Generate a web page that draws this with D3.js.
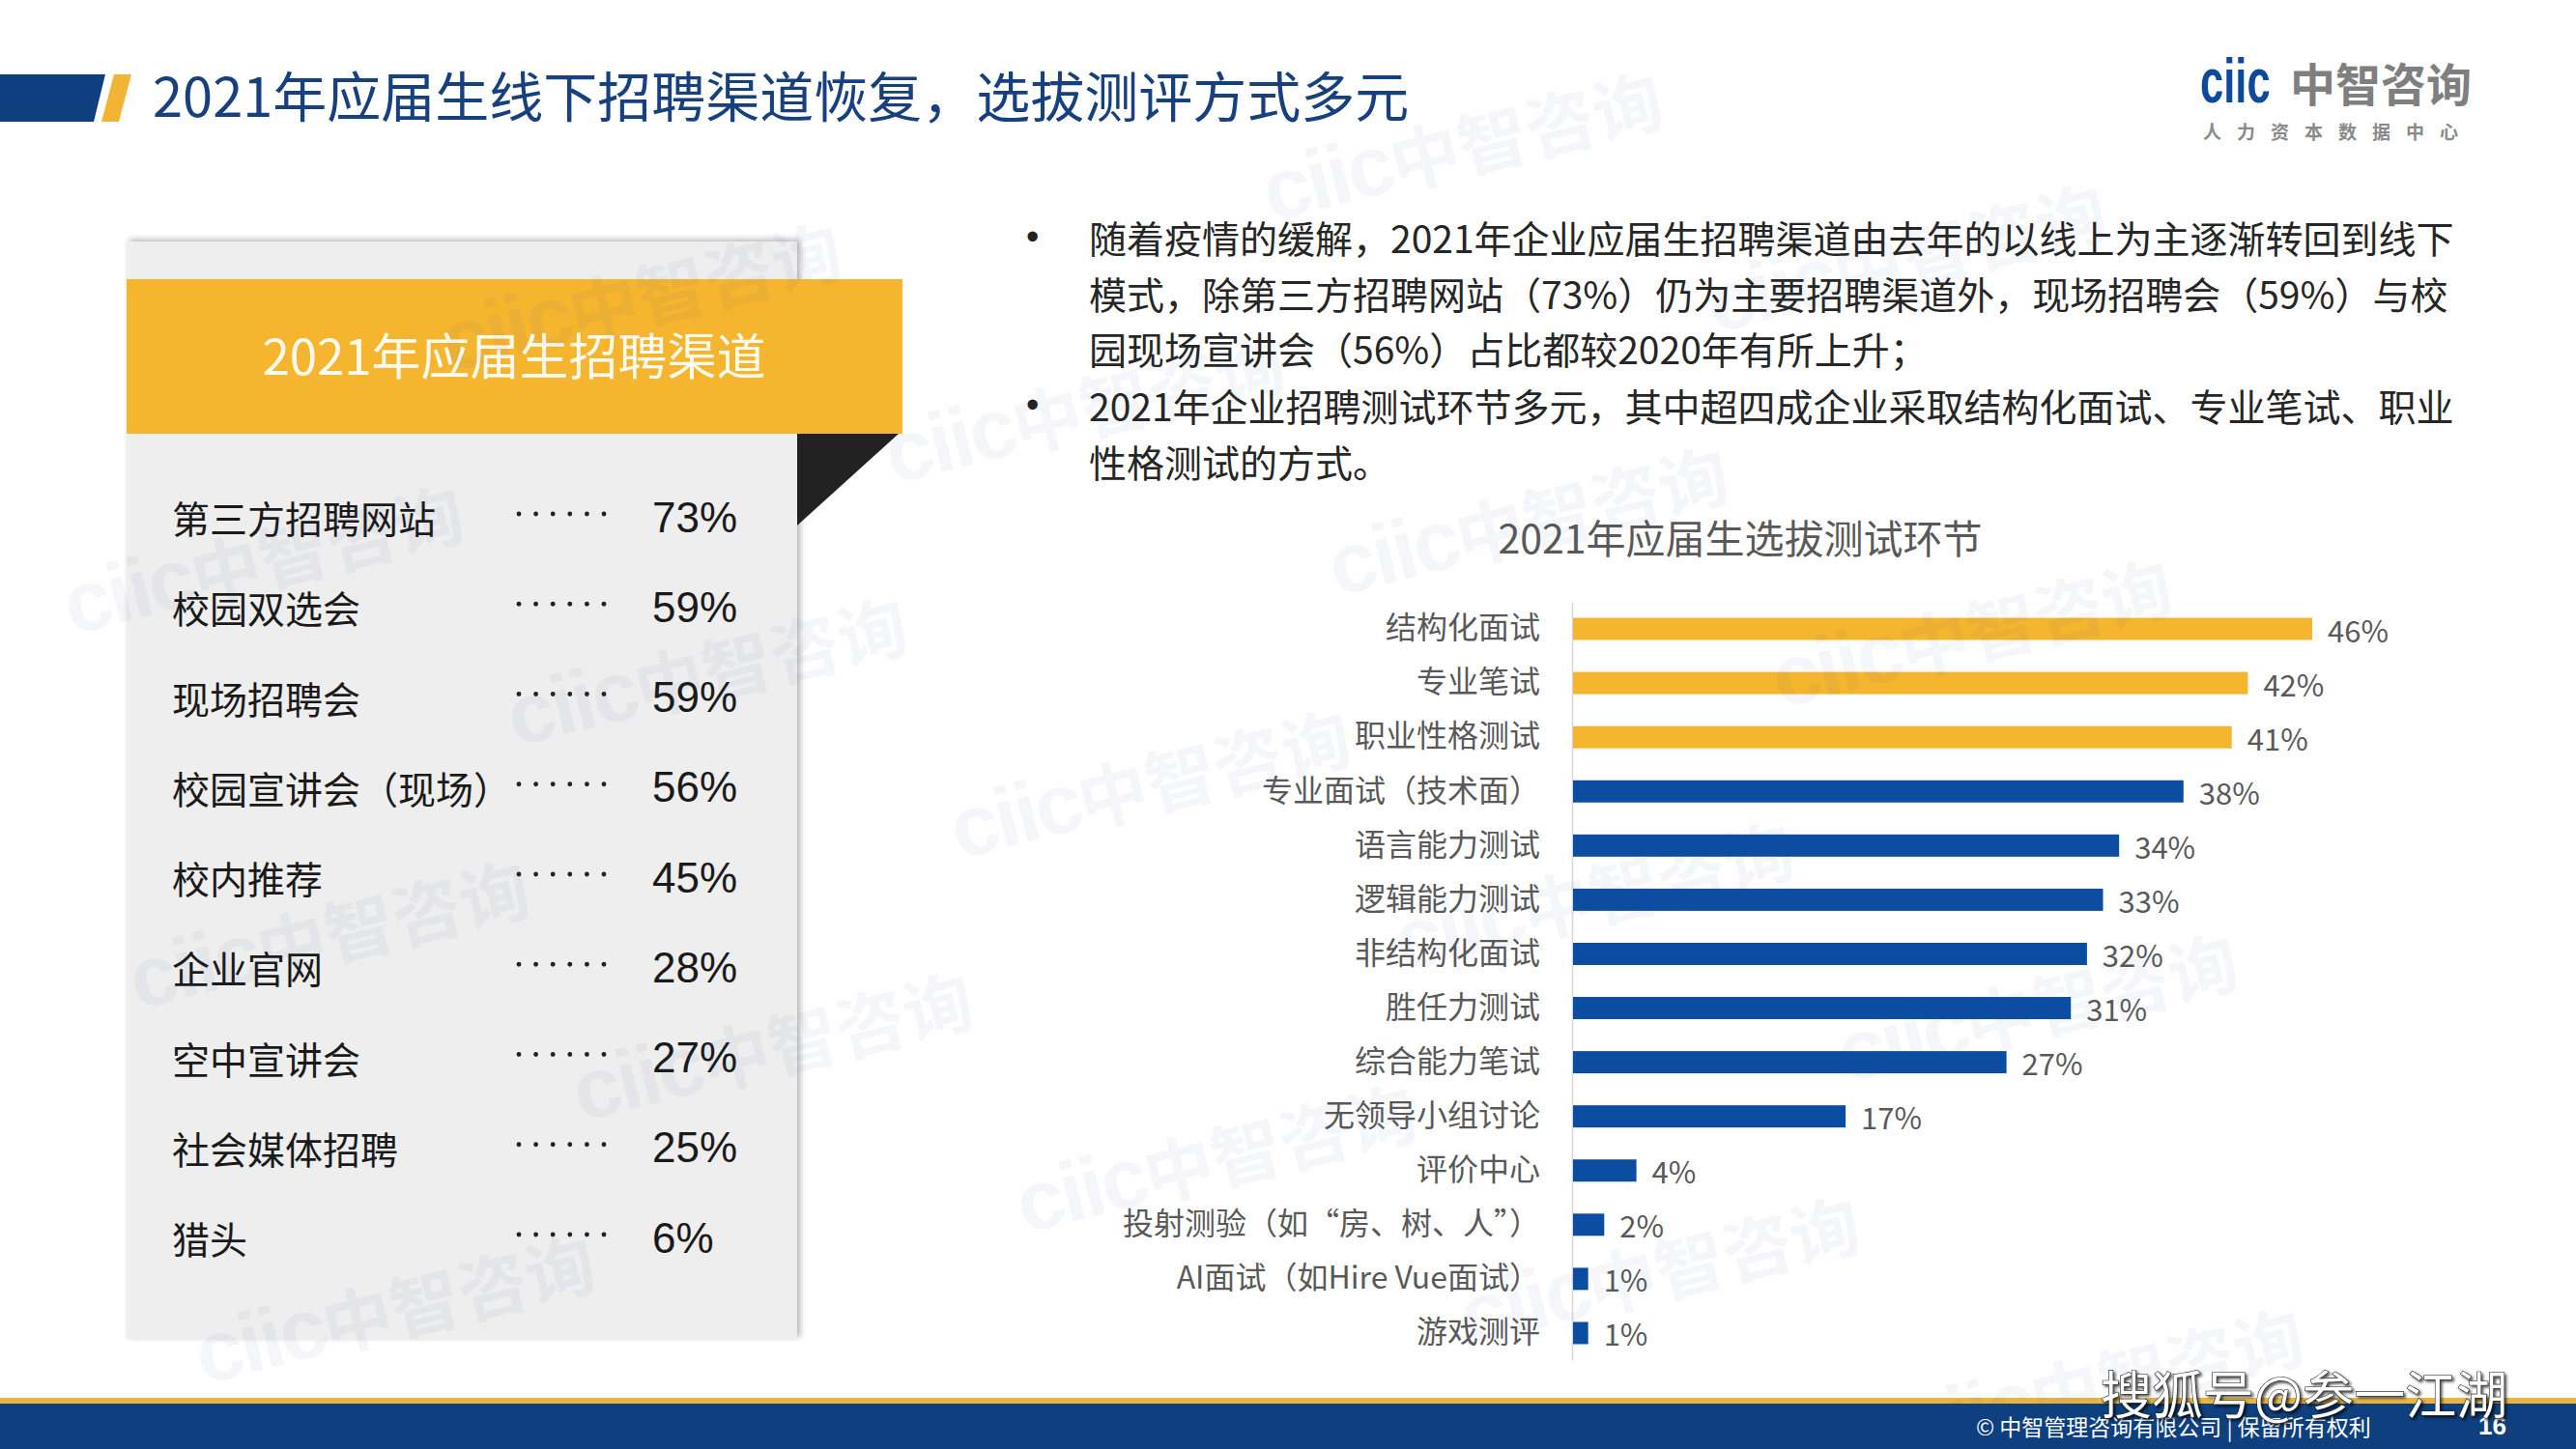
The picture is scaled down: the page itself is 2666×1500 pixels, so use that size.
<!DOCTYPE html>
<html><head><meta charset="utf-8">
<script src="https://cdn.jsdelivr.net/npm/d3@7"></script>
<style>html,body{margin:0;padding:0;background:#fff}svg{display:block}</style>
</head><body>
<script>
// ---------- data ----------
const pageTitle = "2021年应届生线下招聘渠道恢复，选拔测评方式多元";
const channelTitle = "2021年应届生招聘渠道";
const channels = ["第三方招聘网站","校园双选会","现场招聘会","校园宣讲会（现场）","校内推荐","企业官网","空中宣讲会","社会媒体招聘","猎头"];
const channelValues = [73,59,59,56,45,28,27,25,6];
const bulletParagraphs = [
  ["随着疫情的缓解，2021年企业应届生招聘渠道由去年的以线上为主逐渐转回到线下",
   "模式，除第三方招聘网站（73%）仍为主要招聘渠道外，现场招聘会（59%）与校",
   "园现场宣讲会（56%）占比都较2020年有所上升；"],
  ["2021年企业招聘测试环节多元，其中超四成企业采取结构化面试、专业笔试、职业",
   "性格测试的方式。"]
];
const testTitle = "2021年应届生选拔测试环节";
const tests = ["结构化面试","专业笔试","职业性格测试","专业面试（技术面）","语言能力测试","逻辑能力测试","非结构化面试","胜任力测试","综合能力笔试","无领导小组讨论","评价中心","投射测验（如“房、树、人”）","AI面试（如Hire Vue面试）","游戏测评"];
const testValues = [46,42,41,38,34,33,32,31,27,17,4,2,1,1];
const testHighlighted = [true,true,true,false,false,false,false,false,false,false,false,false,false,false];
const logoLatin = "ciic", logoCJK = "中智咨询", logoSub = "人力资本数据中心";
const footerText = "© 中智管理咨询有限公司 | 保留所有权利", pageNumber = "16";
const sourceMark = "搜狐号@参一江湖";

// ---------- styles ----------
const W = 2666, H = 1500;
const NAVY = "#0e3f7e", TITLE_BLUE = "#17407f", YELLOW = "#f5b52e", BAR_BLUE = "#0c4da2";
const CJK = "'Noto Sans CJK SC','Noto Sans',sans-serif";
const LATIN = "'Liberation Sans',Arial,sans-serif";

const svg = d3.select("body").append("svg").attr("width", W).attr("height", H);
const defs = svg.append("defs");
const sh = defs.append("filter").attr("id","panelShadow").attr("x","-5%").attr("y","-5%").attr("width","110%").attr("height","110%");
sh.append("feDropShadow").attr("dx",3).attr("dy",-2).attr("stdDeviation",3).attr("flood-color","#000").attr("flood-opacity",0.3);
const ts = defs.append("filter").attr("id","textShadow").attr("x","-10%").attr("y","-30%").attr("width","120%").attr("height","160%");
ts.append("feDropShadow").attr("dx",2).attr("dy",2).attr("stdDeviation",1.5).attr("flood-color","#000").attr("flood-opacity",0.7);

svg.append("rect").attr("width",W).attr("height",H).attr("fill","#fff");

// watermark lattice positions (only whole marks)
const origin = [799,1080], va = [459,116], vb = [-68,-388];
const pts = [];
for (let m = -4; m <= 6; m++) for (let n = -2; n <= 5; n++) {
  const cx = origin[0] + m*va[0] + n*vb[0], cy = origin[1] + m*va[1] + n*vb[1];
  if (cx > 250 && cx < W - 250 && cy > 70 && cy < H - 70) pts.push([cx, cy]);
}

// ---------- header ----------
svg.append("polygon").attr("points","0,77 109,77 97,126 0,126").attr("fill",NAVY);
svg.append("polygon").attr("points","118,77 136,77 123,126 105,126").attr("fill","#f1b434");
svg.append("text").attr("x",158).attr("y",96).attr("dominant-baseline","central")
  .attr("font-family",CJK).attr("font-size",56).attr("fill",TITLE_BLUE).text(pageTitle);

// logo
const logo = svg.append("g");
logo.append("text").attr("transform","translate(2277,106) scale(0.68,1)").attr("font-family",LATIN).attr("font-weight","bold")
  .attr("font-size",64).attr("fill","#0d4a9a").text(logoLatin);
logo.append("text").attr("x",2370).attr("y",84).attr("dominant-baseline","central").attr("font-family",CJK)
  .attr("font-weight","bold").attr("font-size",47).attr("fill","#7f7f7f").text(logoCJK);
logo.append("text").attr("x",2280).attr("y",135).attr("dominant-baseline","central").attr("font-family",CJK)
  .attr("font-weight","bold").attr("font-size",19).attr("letter-spacing",16).attr("fill","#8a8a8a").text(logoSub);

// ---------- left panel ----------
svg.append("rect").attr("x",131).attr("y",250).attr("width",694).attr("height",1136)
  .attr("fill","#eeeeee").attr("filter","url(#panelShadow)");
svg.append("rect").attr("x",131).attr("y",289).attr("width",803).attr("height",160).attr("fill",YELLOW);
svg.append("polygon").attr("points","825,449 930,449 825,544").attr("fill","#222");
svg.append("text").attr("x",532).attr("y",366).attr("text-anchor","middle").attr("dominant-baseline","central")
  .attr("font-family",CJK).attr("font-size",51).attr("fill","#fffbf0").text(channelTitle);

const rowY = d3.scalePoint().domain(channels).range([535, 1281]);
const rows = svg.append("g").selectAll("g").data(channels).join("g")
  .attr("transform", d => `translate(0,${rowY(d)})`);
rows.append("text").attr("x",178).attr("dominant-baseline","central").attr("font-family",CJK)
  .attr("font-size",39).attr("fill","#1a1a1a").text(d => d);
rows.selectAll("circle").data(d3.range(6)).join("circle")
  .attr("cx", i => 537 + i*17.6).attr("cy",-3).attr("r",2.4).attr("fill","#222");
rows.append("text").attr("x",675).attr("dominant-baseline","central").attr("font-family",LATIN)
  .attr("font-size",44).attr("fill","#1a1a1a").text((d,i) => channelValues[i] + "%");

// ---------- bullets ----------
const paraStart = [245, 419], lineGap = 57.5;
bulletParagraphs.forEach((lines, p) => {
  svg.append("text").attr("x",1062).attr("y",paraStart[p]).attr("dominant-baseline","central")
    .attr("font-family",LATIN).attr("font-size",38).attr("fill","#222").text("•");
  svg.append("g").selectAll("text").data(lines).join("text")
    .attr("x",1127).attr("y",(d,i) => paraStart[p] + i*lineGap).attr("dominant-baseline","central")
    .attr("font-family",CJK).attr("font-size",39).attr("fill","#262626").text(d => d);
});

// ---------- bar chart ----------
svg.append("text").attr("x",1801).attr("y",555).attr("text-anchor","middle").attr("dominant-baseline","central")
  .attr("font-family",CJK).attr("font-size",41).attr("fill","#595959").text(testTitle);

const x = d3.scaleLinear().domain([0, 46]).range([1627, 2393]);
const y = d3.scaleBand().domain(tests).range([623, 1408]).paddingInner(0.59).paddingOuter(0.295);

const axis = svg.append("g").attr("transform","translate(1627,0)")
  .call(d3.axisLeft(y).tickSize(0).tickSizeOuter(0).tickPadding(33));
axis.select(".domain").attr("stroke","#d6d6de").attr("stroke-width",1.5);
axis.selectAll(".tick text").attr("font-family",CJK).attr("font-size",32).attr("fill","#595959");

svg.append("g").selectAll("rect").data(tests).join("rect")
  .attr("x", x(0) + 1).attr("y", d => y(d)).attr("height", y.bandwidth())
  .attr("width", (d,i) => x(testValues[i]) - x(0) - 1)
  .attr("fill", (d,i) => testHighlighted[i] ? YELLOW : BAR_BLUE);
svg.append("g").selectAll("text").data(tests).join("text")
  .attr("x", (d,i) => x(testValues[i]) + 16).attr("y", d => y(d) + y.bandwidth()/2)
  .attr("dominant-baseline","central").attr("font-family",CJK).attr("font-size",31).attr("fill","#595959")
  .text((d,i) => testValues[i] + "%");

// ---------- footer ----------
svg.append("rect").attr("x",0).attr("y",1447).attr("width",W).attr("height",7).attr("fill","#e9b53f");
svg.append("rect").attr("x",0).attr("y",1453).attr("width",W).attr("height",47).attr("fill",NAVY);
svg.append("text").attr("x",2045).attr("y",1476).attr("dominant-baseline","central").attr("font-family",CJK)
  .attr("font-size",23).attr("fill","#fff").text(footerText);
svg.append("text").attr("x",2565).attr("y",1476).attr("dominant-baseline","central").attr("font-family",LATIN)
  .attr("font-weight","bold").attr("font-size",26).attr("fill","#fff").text(pageNumber);

// watermark marks drawn over content, very faint
const wt = svg.append("g").attr("pointer-events","none").selectAll("text").data(pts).join("text")
  .attr("transform", d => `translate(${d[0]},${d[1]}) rotate(-14)`)
  .attr("text-anchor","middle").attr("dominant-baseline","central")
  .attr("fill","rgb(40,70,150)").attr("fill-opacity",0.05);
wt.append("tspan").attr("font-family",LATIN).attr("font-weight","bold").attr("font-size",88).attr("letter-spacing",-3).text(logoLatin);
wt.append("tspan").attr("font-family",CJK).attr("font-weight","bold").attr("font-size",72).text(logoCJK);

// source mark
svg.append("text").attr("x",2174).attr("y",1441).attr("dominant-baseline","central").attr("font-family",CJK)
  .attr("font-size",53).attr("fill","#fff").attr("stroke","#222").attr("stroke-width",1.2)
  .attr("paint-order","stroke").attr("filter","url(#textShadow)").text(sourceMark);
</script>
</body></html>
